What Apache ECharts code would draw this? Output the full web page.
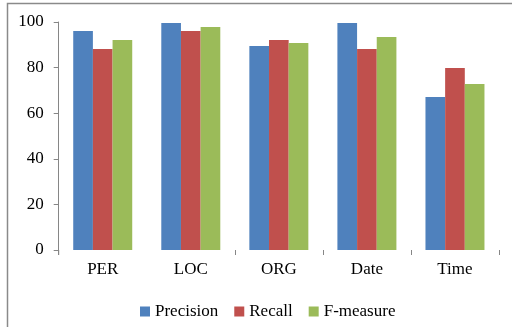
<!DOCTYPE html>
<html>
<head>
<meta charset="utf-8">
<script src="https://cdn.jsdelivr.net/npm/echarts@6/dist/echarts.min.js"></script>
<style>
  html, body { margin: 0; padding: 0; background: #fff; }
  #chart { width: 512px; height: 327px; }
</style>
</head>
<body>
<div id="chart"></div>
<script>
// Entity types and scores (%)
const categories = ['PER', 'LOC', 'ORG', 'Date', 'Time'];
const precision = [96.0, 99.6, 89.5, 99.6, 67.1];
const recall    = [88.2, 96.0, 92.1, 88.2, 79.8];
const fMeasure  = [92.1, 97.8, 90.8, 93.4, 72.8];
const seriesNames = ['Precision', 'Recall', 'F-measure'];
const yTicks = [0, 20, 40, 60, 80, 100];

const font = 'Liberation Serif, Times New Roman, serif';
const axisGray = '#868686';

const chart = echarts.init(document.getElementById('chart'), null, { renderer: 'canvas' });

function bar(name, data, color) {
  return {
    name: name,
    type: 'bar',
    data: data,
    barGap: '0%',
    barCategoryGap: '33%',
    itemStyle: { color: color },
    emphasis: { disabled: true }
  };
}

chart.setOption({
  animation: false,
  backgroundColor: '#fff',
  grid: { left: 58.7, right: 13, top: 22, bottom: 77, containLabel: false },
  legend: {
    data: seriesNames,
    left: 135,
    top: 298,
    itemWidth: 10,
    itemHeight: 10,
    itemGap: 16,
    icon: 'rect',
    textStyle: { fontFamily: font, fontSize: 17, color: '#000' }
  },
  xAxis: {
    type: 'category',
    data: categories,
    axisLine: { show: false },
    axisTick: {
      show: true,
      length: 5,
      interval: function (index) { return index !== 1; },
      lineStyle: { color: axisGray }
    },
    axisLabel: { fontFamily: font, fontSize: 17, color: '#000', margin: 11 }
  },
  yAxis: {
    type: 'value',
    min: yTicks[0],
    max: yTicks[yTicks.length - 1],
    interval: 20,
    splitLine: { show: false },
    axisLine: { show: true, lineStyle: { color: axisGray } },
    axisTick: { show: true, length: 5, lineStyle: { color: axisGray } },
    axisLabel: { fontFamily: font, fontSize: 17, color: '#000', margin: 15 }
  },
  graphic: [
    {
      type: 'polyline',
      silent: true,
      shape: { points: [[7.5, 327], [7.5, 3.5], [512, 3.5]] },
      style: { stroke: '#8a8a8a', lineWidth: 1.5, fill: null }
    },
    {
      // stub of the y-axis reaching down to the category tick row
      type: 'line',
      silent: true,
      shape: { x1: 58.7, y1: 250, x2: 58.7, y2: 255 },
      style: { stroke: axisGray, lineWidth: 1 }
    }
  ],
  series: [
    bar(seriesNames[0], precision, '#4F81BD'),
    bar(seriesNames[1], recall, '#C0504D'),
    bar(seriesNames[2], fMeasure, '#9BBB59')
  ]
});
</script>
</body>
</html>
